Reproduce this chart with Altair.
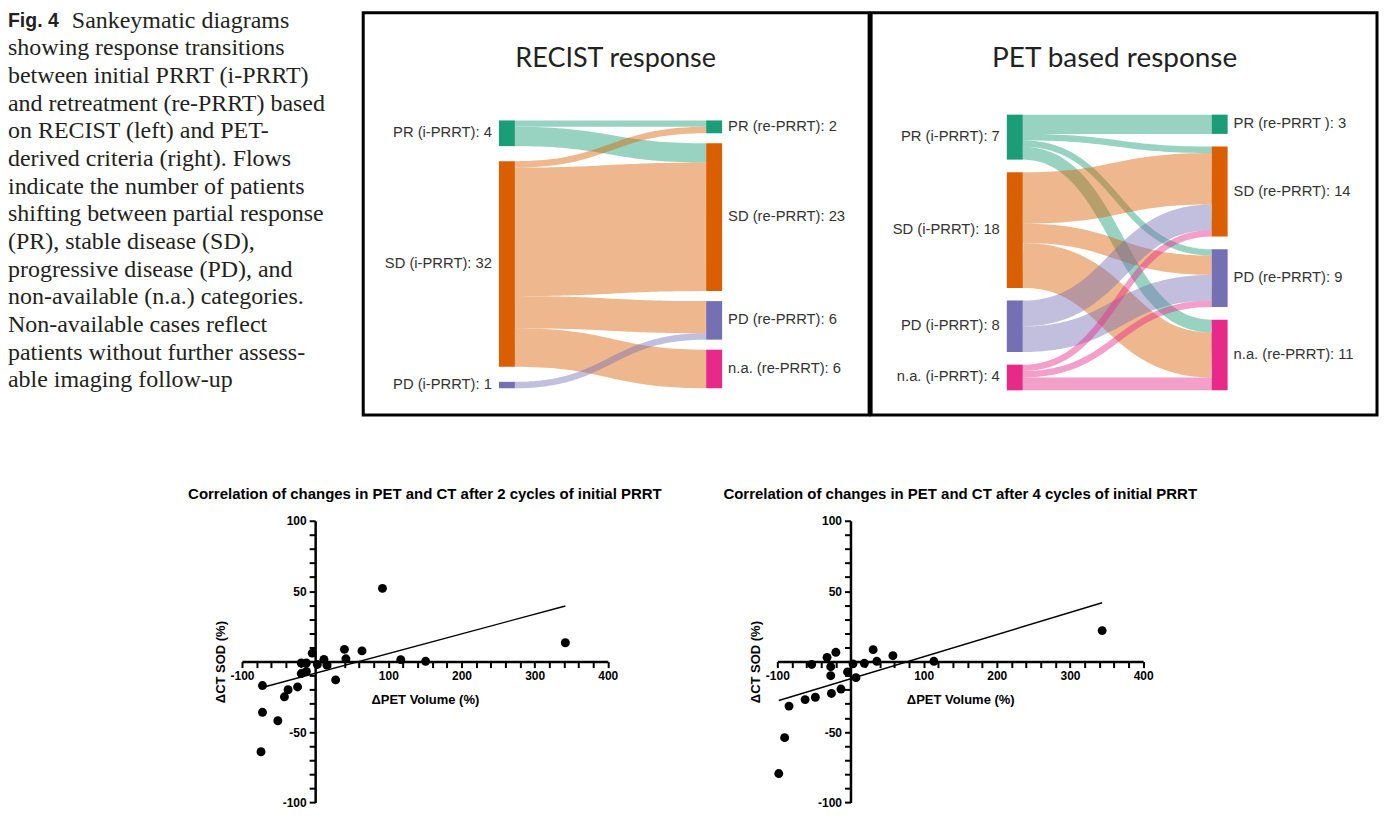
import altair as alt
import numpy as np
import pandas as pd

# ---------------- caption ----------------
caption_lead = "Fig. 4"
caption_lines = [
    "Sankeymatic diagrams",
    "showing response transitions",
    "between initial PRRT (i-PRRT)",
    "and retreatment (re-PRRT) based",
    "on RECIST (left) and PET-",
    "derived criteria (right). Flows",
    "indicate the number of patients",
    "shifting between partial response",
    "(PR), stable disease (SD),",
    "progressive disease (PD), and",
    "non-available (n.a.) categories.",
    "Non-available cases reflect",
    "patients without further assess-",
    "able imaging follow-up",
]

# ---------------- sankey data ----------------
categories = ["PR", "SD", "PD", "n.a."]
category_colors = ["#1b9e77", "#d95f02", "#7570b3", "#e7298a"]

recist_title = "RECIST response"
recist_left_cats = ["PR", "SD", "PD"]
recist_left_names = ["PR (i-PRRT)", "SD (i-PRRT)", "PD (i-PRRT)"]
recist_right_cats = ["PR", "SD", "PD", "n.a."]
recist_right_names = ["PR (re-PRRT)", "SD (re-PRRT)", "PD (re-PRRT)", "n.a. (re-PRRT)"]
recist_flow_from = [0, 0, 1, 1, 1, 1, 2]
recist_flow_to = [0, 1, 0, 1, 2, 3, 2]
recist_flow_n = [1, 3, 1, 20, 5, 6, 1]

pet_title = "PET based response"
pet_left_cats = ["PR", "SD", "PD", "n.a."]
pet_left_names = ["PR (i-PRRT)", "SD (i-PRRT)", "PD (i-PRRT)", "n.a. (i-PRRT)"]
pet_right_cats = ["PR", "SD", "PD", "n.a."]
pet_right_names = ["PR (re-PRRT )", "SD (re-PRRT)", "PD (re-PRRT)", "n.a. (re-PRRT)"]
pet_flow_from = [0, 0, 0, 0, 1, 1, 1, 2, 2, 3, 3, 3]
pet_flow_to = [0, 1, 2, 3, 1, 2, 3, 1, 2, 1, 2, 3]
pet_flow_n = [3, 1, 1, 2, 8, 3, 7, 4, 4, 1, 1, 2]

# ---------------- scatter data ----------------
sc2_title = "Correlation of changes in PET and CT after 2 cycles of initial PRRT"
sc2_pet = [-72, -72, -74, -51, -42, -37, -24, -19, -12, -19, -12, -4, 3, 12, 16, 28, 40, 42, 64, 92, 117, 151, 342]
sc2_ct = [-17, -36, -64, -42, -25, -20, -18, -1, -1, -8.5, -7, 6, -2, 1.6, -2.5, -13, 8.7, 2, 7.6, 52, 1.4, 0.2, 13.4]
sc2_fit_pet = [-71, 342]
sc2_fit_ct = [-18.2, 39.5]

sc4_title = "Correlation of changes in PET and CT after 4 cycles of initial PRRT"
sc4_pet = [-98, -90, -84, -62, -48, -53, -32, -20, -27, -27, -26, -13, -4, 3.5, 7.5, 19, 31, 36, 58, 114, 344]
sc4_ct = [-79.5, -54, -31.6, -27, -25.3, -2, 3, 6.6, -3.6, -10, -22.6, -19.5, -7.3, -1.6, -11.4, -1.2, 8.5, 0.2, 4.2, 0.2, 22]
sc4_fit_pet = [-98, 344]
sc4_fit_ct = [-27.6, 41.8]

x_axis_title = "ΔPET Volume (%)"
y_axis_title = "ΔCT SOD (%)"
x_ticks = list(range(-100, 401, 20))
y_ticks = list(range(-100, 101, 10))

# ---------------- layout constants ----------------
CAP_W = 356
PANEL_W = 507
PANEL_H = 403
PX_PER_PATIENT = 6.44
SC_W = 366.6
SC_H = 282.3
LABEL_FONT = "Liberation Sans"

color_scale = alt.Scale(domain=categories, range=category_colors)


def sankey(title, title_x, title_size, lcats, lnames, rcats, rnames, f_from, f_to, f_n,
           left_px, right_px, node_px, top_px, bottom_px):
    K = PX_PER_PATIENT
    ltot = [sum(v for s, v in zip(f_from, f_n) if s == i) for i in range(len(lcats))]
    rtot = [sum(v for d, v in zip(f_to, f_n) if d == i) for i in range(len(rcats))]
    col_h = (bottom_px - top_px) / K
    top_u = top_px / K

    def stack(tot):
        gap = (col_h - sum(tot)) / (len(tot) - 1)
        out, y = [], top_u
        for t in tot:
            out.append(y)
            y += t + gap
        return out

    ly, ry = stack(ltot), stack(rtot)
    D = right_px - left_px
    nw = node_px / D
    xdom = [-left_px / D, (PANEL_W - left_px) / D]
    ydom = [0, PANEL_H / K]

    nodes = []
    for i, c in enumerate(lcats):
        nodes.append(dict(cat=c, x0=0.0, x1=nw, y0=ly[i], y1=ly[i] + ltot[i],
                          yc=ly[i] + ltot[i] / 2, label=f"{lnames[i]}: {ltot[i]}", side="L"))
    for i, c in enumerate(rcats):
        nodes.append(dict(cat=c, x0=1.0, x1=1.0 + nw, y0=ry[i], y1=ry[i] + rtot[i],
                          yc=ry[i] + rtot[i] / 2, label=f"{rnames[i]}: {rtot[i]}", side="R"))
    nodes = pd.DataFrame(nodes)

    idx = list(range(len(f_n)))
    ys, yd = {}, {}
    off = {}
    for k in sorted(idx, key=lambda k: (f_from[k], f_to[k])):
        s = f_from[k]
        o = off.get(s, 0.0)
        ys[k] = ly[s] + o + f_n[k] / 2
        off[s] = o + f_n[k]
    off = {}
    for k in sorted(idx, key=lambda k: (f_to[k], f_from[k])):
        d = f_to[k]
        o = off.get(d, 0.0)
        yd[k] = ry[d] + o + f_n[k] / 2
        off[d] = o + f_n[k]

    t = np.linspace(0, 1, 41)
    rows = []
    for k in idx:
        x0, x1 = nw, 1.0
        xs = x0 + (x1 - x0) * (1.5 * t * (1 - t) + t ** 3)
        yy = ys[k] + (yd[k] - ys[k]) * (3 * t ** 2 - 2 * t ** 3)
        for ti, xv, yv in zip(t, xs, yy):
            rows.append(dict(fid=k, t=ti, x=xv, y=yv, cat=lcats[f_from[k]], sw=f_n[k] * K))
    flows = pd.DataFrame(rows)

    X = lambda f: alt.X(f, type="quantitative", scale=alt.Scale(domain=xdom, nice=False, zero=False), axis=None)
    Y = lambda f: alt.Y(f, type="quantitative", scale=alt.Scale(domain=ydom, nice=False, zero=False, reverse=True), axis=None)

    flow_layer = alt.Chart(flows).mark_line(opacity=0.45, strokeCap="butt", strokeJoin="round", clip=True).encode(
        x=X("x"), y=Y("y"), detail="fid:N", order="t:Q",
        color=alt.Color("cat:N", scale=color_scale, legend=None),
        strokeWidth=alt.StrokeWidth("sw:Q", scale=None),
    )
    node_layer = alt.Chart(nodes).mark_rect().encode(
        x=X("x0"), x2="x1", y=Y("y0"), y2="y1",
        color=alt.Color("cat:N", scale=color_scale, legend=None),
    )
    lab_l = alt.Chart(nodes).transform_filter("datum.side == 'L'").mark_text(
        align="right", baseline="middle", dx=-7, font=LABEL_FONT, fontSize=14.8, color="#333333"
    ).encode(x=X("x0"), y=Y("yc"), text="label:N")
    lab_r = alt.Chart(nodes).transform_filter("datum.side == 'R'").mark_text(
        align="left", baseline="middle", dx=6, font=LABEL_FONT, fontSize=14.8, color="#333333"
    ).encode(x=X("x1"), y=Y("yc"), text="label:N")
    ttl = alt.Chart(pd.DataFrame({"t": [title]})).mark_text(
        font="Lato", fontSize=title_size, color="#222222", baseline="middle", align="center"
    ).encode(x=alt.value(title_x), y=alt.value(46), text="t:N")

    return alt.layer(flow_layer, node_layer, lab_l, lab_r, ttl).properties(
        width=PANEL_W, height=PANEL_H,
        view=alt.ViewBackground(stroke="black", strokeWidth=3),
    )


def scatter(title, xs, ys, fx, fy):
    pts = pd.DataFrame({"x": xs, "y": ys})
    fit = pd.DataFrame({"x": fx, "y": fy})
    xsc = alt.Scale(domain=[-100, 400], nice=False, zero=False)
    ysc = alt.Scale(domain=[-100, 100], nice=False, zero=False)
    lbl = "datum.value % {m} === 0 && datum.value !== 0 ? (datum.value < 0 ? '-' + abs(datum.value) : '' + datum.value) : ''"
    common = dict(domainColor="black", domainWidth=2.5, tickColor="black", tickWidth=2, tickSize=6,
                  tickCount=200, labelFont=LABEL_FONT, labelFontWeight="bold", labelFontSize=12,
                  labelColor="black", titleFont=LABEL_FONT, titleFontWeight="bold", titleFontSize=13,
                  titleColor="black", grid=False, labelOverlap=False, labelFlush=False, labelPadding=3)
    xaxis = alt.Axis(values=x_ticks, labelExpr=lbl.format(m=100),
                     offset=-SC_H / 2, title=x_axis_title, titlePadding=12, **common)
    yaxis = alt.Axis(values=y_ticks, labelExpr=lbl.format(m=50),
                     offset=-SC_W / 5, title=y_axis_title, titleX=-88, **common)
    p = alt.Chart(pts).mark_circle(size=80, color="black", opacity=1).encode(
        x=alt.X("x:Q", scale=xsc, axis=xaxis), y=alt.Y("y:Q", scale=ysc, axis=yaxis))
    ln = alt.Chart(fit).mark_line(color="black", strokeWidth=1.4).encode(
        x=alt.X("x:Q", scale=xsc, axis=xaxis), y=alt.Y("y:Q", scale=ysc, axis=yaxis))
    return alt.layer(p, ln).properties(
        width=SC_W, height=SC_H,
        title=alt.TitleParams(title, font=LABEL_FONT, fontSize=15, fontWeight="bold", color="black",
                              anchor="middle", frame="group", offset=13),
    )


# ---------------- caption panel ----------------
LINE_PX = 27.7
d0 = -8 / LINE_PX
cap_y = alt.Scale(domain=[d0, d0 + PANEL_H / LINE_PX], nice=False, zero=False, reverse=True)
cap_df = pd.DataFrame({"line": caption_lines, "i": list(range(len(caption_lines)))})
lead = alt.Chart(pd.DataFrame({"line": [caption_lead], "i": [0]})).mark_text(
    align="left", baseline="middle", font=LABEL_FONT, fontWeight="bold", fontSize=19.5, color="#231f20"
).encode(x=alt.value(0), y=alt.Y("i:Q", scale=cap_y, axis=None), text="line:N")
first = alt.Chart(cap_df).transform_filter("datum.i == 0").mark_text(
    align="left", baseline="middle", dx=64, font="Liberation Serif", fontSize=24, color="#231f20"
).encode(x=alt.value(0), y=alt.Y("i:Q", scale=cap_y, axis=None), text="line:N")
rest = alt.Chart(cap_df).transform_filter("datum.i > 0").mark_text(
    align="left", baseline="middle", font="Liberation Serif", fontSize=24, color="#231f20"
).encode(x=alt.value(0), y=alt.Y("i:Q", scale=cap_y, axis=None), text="line:N")
caption = alt.layer(lead, first, rest).properties(width=CAP_W, height=PANEL_H)

recist = sankey(recist_title, 253, 27, recist_left_cats, recist_left_names, recist_right_cats, recist_right_names,
                recist_flow_from, recist_flow_to, recist_flow_n, 136, 343.7, 16, 107.8, 376.2)
pet = sankey(pet_title, 244, 28, pet_left_cats, pet_left_names, pet_right_cats, pet_right_names,
             pet_flow_from, pet_flow_to, pet_flow_n, 136, 341.3, 16, 102, 378.3)

sc2 = scatter(sc2_title, sc2_pet, sc2_ct, sc2_fit_pet, sc2_fit_ct)
sc4 = scatter(sc4_title, sc4_pet, sc4_ct, sc4_fit_pet, sc4_fit_ct)

# empty left margin cell for the lower row
spacer = alt.Chart(pd.DataFrame({"s": [""]})).mark_text().encode(text="s:N").properties(width=119, height=1)

top = alt.hconcat(caption, recist, pet, spacing=-3)
bottom = alt.hconcat(spacer, sc2, sc4, spacing=60.5)

chart = alt.vconcat(top, bottom, spacing=70).properties(
    padding={"left": 0, "top": 0, "right": 0, "bottom": 0},
    background="white",
).configure_view(stroke=None)

chart.save("out.html", embed_options={"renderer": "svg", "actions": False})
